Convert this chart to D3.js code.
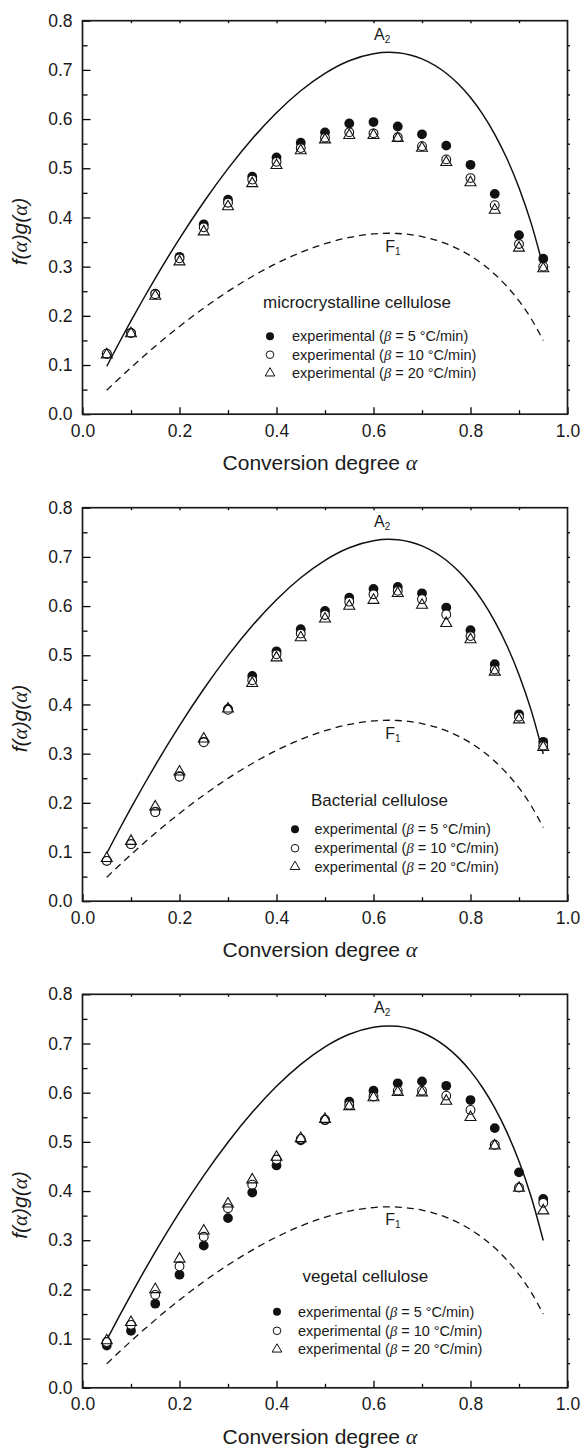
<!DOCTYPE html>
<html>
<head>
<meta charset="utf-8">
<script src="https://cdn.jsdelivr.net/npm/d3@7"></script>
<style>
  body { margin: 0; background: #fff; }
  svg { display: block; font-family: "Liberation Sans", Arial, Helvetica, sans-serif; }
</style>
</head>
<body>
<div id="chart"></div>
<script>
// conversion degree of every measured point
const alphaValues = [0.05, 0.10, 0.15, 0.20, 0.25, 0.30, 0.35, 0.40, 0.45, 0.50,
  0.55, 0.60, 0.65, 0.70, 0.75, 0.80, 0.85, 0.90, 0.95];

// microcrystalline cellulose
const microBeta5 = [0.123, 0.165, 0.245, 0.320, 0.386, 0.436, 0.483, 0.522, 0.552, 0.573,
  0.591, 0.594, 0.585, 0.569, 0.546, 0.507, 0.448, 0.364, 0.316];
const microBeta10 = [0.123, 0.165, 0.244, 0.317, 0.380, 0.430, 0.477, 0.513, 0.541, 0.562,
  0.573, 0.571, 0.563, 0.545, 0.518, 0.480, 0.425, 0.346, 0.300];
const microBeta20 = [0.121, 0.164, 0.240, 0.310, 0.371, 0.422, 0.469, 0.506, 0.536, 0.558,
  0.567, 0.567, 0.561, 0.541, 0.512, 0.471, 0.415, 0.338, 0.296];

// bacterial cellulose
const bactBeta5 = [0.082, 0.116, 0.182, 0.254, 0.324, 0.391, 0.458, 0.508, 0.553, 0.590,
  0.617, 0.635, 0.639, 0.626, 0.597, 0.551, 0.482, 0.380, 0.324];
const bactBeta10 = [0.082, 0.116, 0.181, 0.253, 0.323, 0.389, 0.449, 0.502, 0.544, 0.582,
  0.609, 0.624, 0.631, 0.614, 0.583, 0.539, 0.471, 0.375, 0.316];
const bactBeta20 = [0.087, 0.122, 0.192, 0.263, 0.330, 0.391, 0.443, 0.495, 0.536, 0.574,
  0.600, 0.612, 0.626, 0.602, 0.565, 0.532, 0.466, 0.369, 0.313];

// vegetal cellulose
const vegBeta5 = [0.086, 0.116, 0.171, 0.230, 0.289, 0.345, 0.397, 0.452, 0.503, 0.544,
  0.582, 0.604, 0.619, 0.623, 0.614, 0.585, 0.528, 0.438, 0.384];
const vegBeta10 = [0.093, 0.128, 0.189, 0.247, 0.307, 0.365, 0.413, 0.464, 0.506, 0.545,
  0.575, 0.592, 0.604, 0.604, 0.594, 0.565, 0.494, 0.407, 0.376];
const vegBeta20 = [0.096, 0.133, 0.200, 0.262, 0.319, 0.374, 0.423, 0.469, 0.507, 0.546,
  0.572, 0.590, 0.601, 0.600, 0.583, 0.550, 0.492, 0.406, 0.360];

// master curves A2 and F1
const curveAlpha = [0.05, 0.075, 0.10, 0.125, 0.15, 0.20, 0.25, 0.30, 0.35, 0.40, 0.45,
  0.50, 0.55, 0.60, 0.632, 0.65, 0.70, 0.75, 0.775, 0.80, 0.825, 0.85, 0.875, 0.90,
  0.925, 0.95];
const curveA2 = [0.0975, 0.1442, 0.1896, 0.2337, 0.2763, 0.3570, 0.4315, 0.4993, 0.5600,
  0.6130, 0.6576, 0.6931, 0.7187, 0.7330, 0.7358, 0.7349, 0.7224, 0.6931, 0.6712, 0.6438,
  0.6100, 0.5691, 0.5199, 0.4605, 0.3885, 0.2996];
const curveF1 = [0.0487, 0.0721, 0.0948, 0.1168, 0.1381, 0.1785, 0.2158, 0.2497, 0.2800,
  0.3065, 0.3288, 0.3466, 0.3593, 0.3665, 0.3679, 0.3674, 0.3612, 0.3466, 0.3356, 0.3219,
  0.3050, 0.2846, 0.2599, 0.2303, 0.1943, 0.1498];

const xMajorTicks = [0, 0.2, 0.4, 0.6, 0.8, 1.0];
const yMajorTicks = [0, 0.1, 0.2, 0.3, 0.4, 0.5, 0.6, 0.7, 0.8];
const seriesLabels = [
  "experimental (β = 5 °C/min)",
  "experimental (β = 10 °C/min)",
  "experimental (β = 20 °C/min)",
];

const width = 587;
const height = 1449;
const plotLeft = 82.5;
const plotWidth = 485;
const plotHeight = 393.5;

const panels = [
  {
    top: 20.7, title: "microcrystalline cellulose", series: [microBeta5, microBeta10, microBeta20],
    legend: { titleX: 263, titleY: 287.5, markerX: 270, textX: 292, rows: [315.5, 334, 352.5] },
  },
  {
    top: 507.7, title: "Bacterial cellulose", series: [bactBeta5, bactBeta10, bactBeta20],
    legend: { titleX: 311, titleY: 298.5, markerX: 295, textX: 314.5, rows: [321.5, 340.5, 359] },
  },
  {
    top: 994.3, title: "vegetal cellulose", series: [vegBeta5, vegBeta10, vegBeta20],
    legend: { titleX: 302.5, titleY: 287.5, markerX: 277, textX: 298, rows: [317.5, 336.5, 355] },
  },
];

const svg = d3.select("#chart")
  .append("svg")
  .attr("width", width)
  .attr("height", height)
  .attr("viewBox", [0, 0, width, height]);

const triangle = d3.symbol().type(d3.symbolTriangle).size(52);
const legendTriangle = d3.symbol().type(d3.symbolTriangle).size(40);

panels.forEach((panel) => drawPanel(panel));

function drawPanel(panel) {
  const x = d3.scaleLinear().domain([0, 1]).range([plotLeft, plotLeft + plotWidth]);
  const y = d3.scaleLinear().domain([0, 0.8]).range([panel.top + plotHeight, panel.top]);
  const g = svg.append("g");

  drawAxes(g, x, y);
  drawCurves(g, x, y);
  drawPoints(g, x, y, panel.series);
  drawLegend(g, panel);
  drawTitles(g, x, y, panel);
}

function drawAxes(g, x, y) {
  const xMinor = d3.range(0.1, 1, 0.2);
  const yMinor = d3.range(0.05, 0.8, 0.1);
  const bottom = y(0);

  const styleAxis = (sel) => {
    sel.select(".domain").remove();
    sel.selectAll(".tick line").attr("stroke-width", 1.3);
    sel.selectAll(".tick text")
      .attr("fill", "#1a1a1a")
      .style("font-size", "17.5px");
  };

  g.append("g")
    .attr("transform", `translate(0,${bottom})`)
    .call(d3.axisBottom(x).tickValues(xMajorTicks).tickSize(-7).tickPadding(10).tickFormat(d3.format(".1f")))
    .call(styleAxis);

  g.append("g")
    .attr("transform", `translate(0,${bottom})`)
    .call(d3.axisBottom(x).tickValues(xMinor).tickSize(-4).tickFormat(""))
    .call(styleAxis);

  g.append("g")
    .attr("transform", `translate(${plotLeft},0)`)
    .call(d3.axisLeft(y).tickValues(yMajorTicks).tickSize(-8).tickPadding(10).tickFormat(d3.format(".1f")))
    .call(styleAxis);

  g.append("g")
    .attr("transform", `translate(${plotLeft},0)`)
    .call(d3.axisLeft(y).tickValues(yMinor).tickSize(-5).tickFormat(""))
    .call(styleAxis);

  // small ticks on the top and right edges of the frame
  g.append("g")
    .attr("transform", `translate(0,${y(0.8)})`)
    .call(d3.axisTop(x).tickValues(d3.range(0.1, 1, 0.1)).tickSize(-2.5).tickFormat(""))
    .call(styleAxis);

  g.append("g")
    .attr("transform", `translate(${plotLeft + plotWidth},0)`)
    .call(d3.axisRight(y).tickValues(d3.range(0.05, 0.8, 0.05)).tickSize(2.5).tickFormat(""))
    .call(styleAxis);

  g.append("rect")
    .attr("x", plotLeft)
    .attr("y", y(0.8))
    .attr("width", plotWidth)
    .attr("height", plotHeight)
    .attr("fill", "none")
    .attr("stroke", "#1a1a1a")
    .attr("stroke-width", 1.7);
}

function drawCurves(g, x, y) {
  const line = d3.line()
    .x((d) => x(d[0]))
    .y((d) => y(d[1]))
    .curve(d3.curveMonotoneX);

  g.append("path")
    .datum(d3.zip(curveAlpha, curveA2))
    .attr("fill", "none")
    .attr("stroke", "#111")
    .attr("stroke-width", 1.5)
    .attr("d", line);

  g.append("path")
    .datum(d3.zip(curveAlpha, curveF1))
    .attr("fill", "none")
    .attr("stroke", "#111")
    .attr("stroke-width", 1.3)
    .attr("stroke-dasharray", "7,5")
    .attr("d", line);

  const label = (name, sub, ax, ay) => {
    const t = g.append("text")
      .attr("x", x(ax))
      .attr("y", y(ay))
      .attr("fill", "#1a1a1a")
      .style("font-size", "16px")
      .text(name);
    t.append("tspan")
      .attr("dy", 3)
      .style("font-size", "10px")
      .text(sub);
  };

  label("A", "2", 0.601, 0.761);
  label("F", "1", 0.624, 0.330);
}

function drawPoints(g, x, y, series) {
  const [beta5, beta10, beta20] = series;

  g.append("g")
    .selectAll("circle")
    .data(d3.zip(alphaValues, beta5))
    .join("circle")
    .attr("cx", (d) => x(d[0]))
    .attr("cy", (d) => y(d[1]))
    .attr("r", 4.9)
    .attr("fill", "#111");

  g.append("g")
    .selectAll("circle")
    .data(d3.zip(alphaValues, beta10))
    .join("circle")
    .attr("cx", (d) => x(d[0]))
    .attr("cy", (d) => y(d[1]))
    .attr("r", 4.4)
    .attr("fill", "#fff")
    .attr("stroke", "#111")
    .attr("stroke-width", 1.1);

  g.append("g")
    .selectAll("path")
    .data(d3.zip(alphaValues, beta20))
    .join("path")
    .attr("transform", (d) => `translate(${x(d[0])},${y(d[1])})`)
    .attr("d", triangle)
    .attr("fill", "none")
    .attr("stroke", "#111")
    .attr("stroke-width", 1.1);
}

function drawLegend(g, panel) {
  const top = panel.top;
  const lg = panel.legend;

  g.append("text")
    .attr("x", lg.titleX)
    .attr("y", top + lg.titleY)
    .attr("fill", "#1a1a1a")
    .style("font-size", "17px")
    .text(panel.title);

  lg.rows.forEach((ry, i) => {
    const cy = top + ry;
    if (i === 0) {
      g.append("circle").attr("cx", lg.markerX).attr("cy", cy).attr("r", 4).attr("fill", "#111");
    } else if (i === 1) {
      g.append("circle").attr("cx", lg.markerX).attr("cy", cy).attr("r", 3.8)
        .attr("fill", "#fff").attr("stroke", "#111").attr("stroke-width", 1);
    } else {
      g.append("path").attr("transform", `translate(${lg.markerX},${cy})`).attr("d", legendTriangle)
        .attr("fill", "none").attr("stroke", "#111").attr("stroke-width", 1);
    }

    const [before, after] = seriesLabels[i].split("β");
    const t = g.append("text")
      .attr("x", lg.textX)
      .attr("y", cy + 5)
      .attr("fill", "#1a1a1a")
      .style("font-size", "14.5px");
    t.append("tspan").text(before);
    t.append("tspan")
      .style("font-family", "'Liberation Serif', 'DejaVu Serif', serif")
      .style("font-style", "italic")
      .text("β");
    t.append("tspan").text(after);
  });
}

function drawTitles(g, x, y, panel) {
  const bottom = y(0);

  const xt = g.append("text")
    .attr("x", 320)
    .attr("y", bottom + 56)
    .attr("text-anchor", "middle")
    .attr("fill", "#1a1a1a")
    .style("font-size", "21px");
  xt.append("tspan").text("Conversion degree ");
  xt.append("tspan")
    .style("font-family", "'Liberation Serif', 'DejaVu Serif', serif")
    .style("font-style", "italic")
    .style("font-size", "22px")
    .text("α");

  const cx = 27;
  const cy = panel.top + plotHeight / 2 + 14;
  const yt = g.append("text")
    .attr("transform", `translate(${cx},${cy}) rotate(-90)`)
    .attr("text-anchor", "middle")
    .attr("fill", "#1a1a1a")
    .style("font-size", "21px")
    .style("font-style", "italic");
  const parts = ["f(", "α", ")g(", "α", ")"];
  parts.forEach((p) => {
    const s = yt.append("tspan").text(p);
    if (p === "α") s.style("font-family", "'Liberation Serif', 'DejaVu Serif', serif");
  });
}
</script>
</body>
</html>
